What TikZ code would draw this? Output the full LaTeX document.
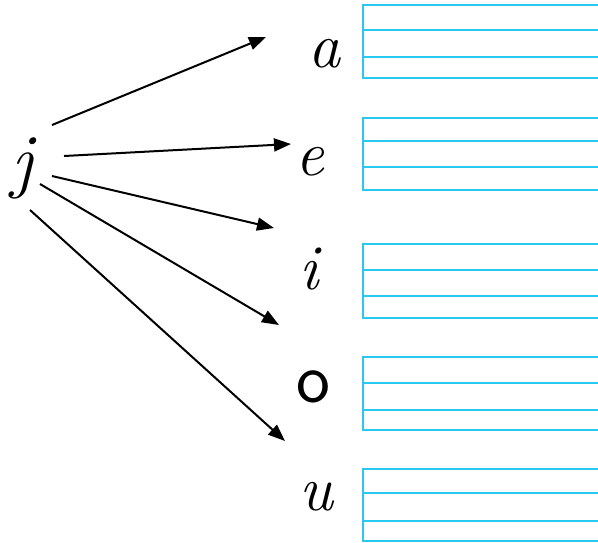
\documentclass[tikz,border=0pt]{standalone}
\usepackage{xcolor}
\usetikzlibrary{arrows.meta}
\definecolor{lineblue}{RGB}{40,200,240}

\begin{document}
\begin{tikzpicture}[x=1pt,y=-1pt,
letter/.style={font=\fontsize{64}{64}\selectfont\itshape, inner sep=0pt},
arr/.style={-{Triangle[length=17pt,width=13pt]}, line width=2pt},
ruled/.style={draw=lineblue, line width=1.4pt}]
\useasboundingbox (0,0) rectangle (598,542);

\node[letter,font=\fontsize{72}{72}\selectfont\itshape] (j) at (22,168) {j};
\node[letter] (a) at (324,54) {a};
\node[letter] (e) at (310,162) {e};
\node[letter] (i) at (309,269) {i};
\node[letter,font=\fontsize{72}{72}\selectfont\sffamily] (o) at (313,387) {o};
\node[letter] (u) at (316,497) {u};

% arrows from j
\coordinate (s1) at (52,125);  \coordinate (t1) at (266,37);
\coordinate (s2) at (64,156);  \coordinate (t2) at (291,144);
\coordinate (s3) at (52,176);  \coordinate (t3) at (274,228);
\coordinate (s4) at (40,184);  \coordinate (t4) at (279,325);
\coordinate (s5) at (30,210);  \coordinate (t5) at (285,441);
\foreach \n in {1,...,5}
  \draw[arr] (s\n) -- (t\n);

% writing lines
\foreach \top/\ma/\mb/\bot in {5/30/57/78, 118/141/167/190, 244/270/296/318, 357/383/410/430, 469/493/521/541}{
  \draw[ruled] (605,\top) -| (363,\bot) -- (605,\bot);
  \draw[ruled] (363,\ma) -- (605,\ma);
  \draw[ruled] (363,\mb) -- (605,\mb);
}
\end{tikzpicture}
\end{document}
